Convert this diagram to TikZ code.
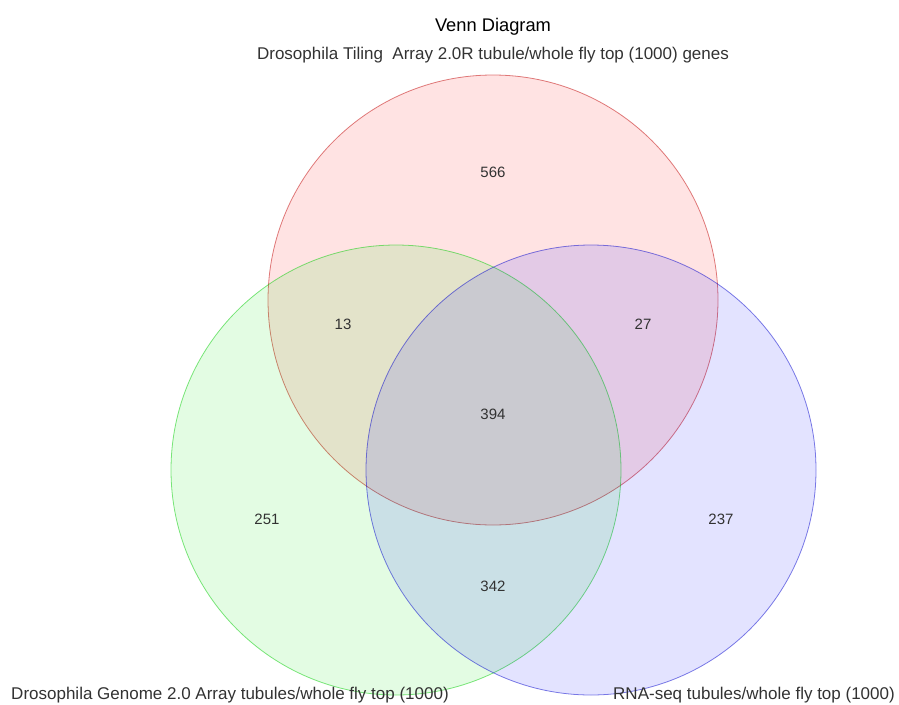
\documentclass[tikz,border=0pt]{standalone}
\usepackage{fontspec}
\setmainfont{Liberation Sans}
\usetikzlibrary{positioning}

\definecolor{setred}{RGB}{255,0,0}
\definecolor{setgreen}{RGB}{0,230,0}
\definecolor{setblue}{RGB}{0,0,255}
\definecolor{numgray}{RGB}{50,50,50}

\tikzset{
  setdisc/.style 2 args={fill=#1, fill opacity=0.11, draw=#2, draw opacity=0.5, line width=0.8pt},
  count/.style={text=numgray, font=\fontsize{15}{18}\selectfont, inner sep=0pt},
  setlabel/.style={text=numgray, font=\fontsize{17}{20}\selectfont, inner sep=0pt}
}

\begin{document}
\begin{tikzpicture}[x=1pt, y=-1pt]
  \useasboundingbox (0,0) rectangle (899,704);
  % the three sets
  \path[setdisc={setred}{red!75!black}]     (493,300) circle[radius=225];
  \path[setdisc={setgreen}{green!80!black}] (396,470) circle[radius=225];
  \path[setdisc={setblue}{blue!80!black}]   (591,470) circle[radius=225];
  % titles
  \node[font=\fontsize{18.3}{22}\selectfont, inner sep=0pt] (title) at (493,27) {Venn Diagram};
  \node[setlabel] (tiling) at (493,55) {Drosophila Tiling\ \ Array 2.0R tubule/whole fly top (1000) genes};
  \node[setlabel] (genome) at (230,695) {Drosophila Genome 2.0 Array tubules/whole fly top (1000)};
  \node[setlabel] (rnaseq) at (754,695) {RNA-seq tubules/whole fly top (1000)};
  % region counts
  \node[count] (n100) at (493,172) {566};
  \node[count] (n110) at (343,324) {13};
  \node[count] (n101) at (643,324) {27};
  \node[count] (n111) at (493,414) {394};
  \node[count] (n010) at (267,519) {251};
  \node[count] (n001) at (721,519) {237};
  \node[count] (n011) at (493,586) {342};
\end{tikzpicture}
\end{document}
